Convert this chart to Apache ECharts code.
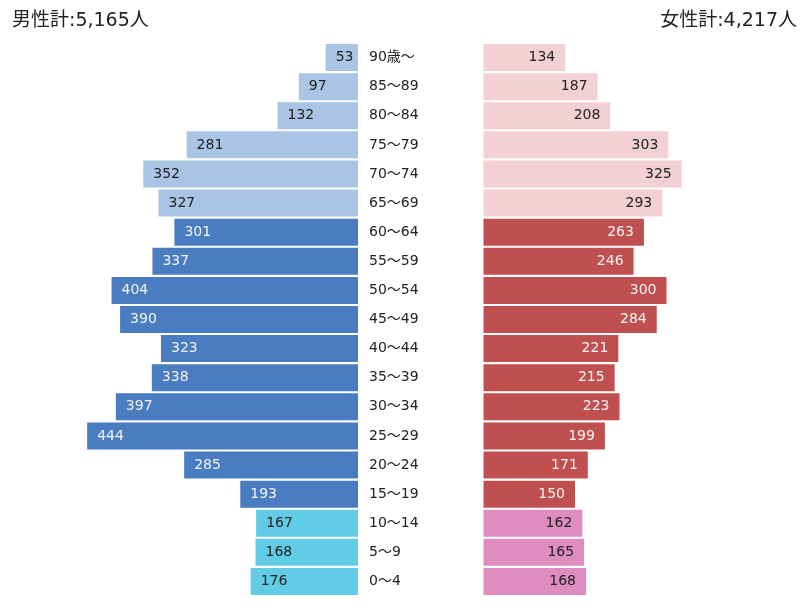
<!DOCTYPE html>
<html>
<head>
<meta charset="utf-8">
<script src="https://cdn.jsdelivr.net/npm/echarts@6/dist/echarts.min.js"></script>
<style>
  html, body { margin: 0; padding: 0; background: #fff; }
  #chart { width: 809px; height: 612px; }
</style>
</head>
<body>
<div id="chart"></div>
<script>
// age groups, top to bottom
const ageLabels = ["90歳～", "85～89", "80～84", "75～79", "70～74", "65～69", "60～64", "55～59", "50～54",
  "45～49", "40～44", "35～39", "30～34", "25～29", "20～24", "15～19", "10～14", "5～9", "0～4"];
const maleValues = [53, 97, 132, 281, 352, 327, 301, 337, 404, 390, 323, 338, 397, 444, 285, 193, 167, 168, 176];
const femaleValues = [134, 187, 208, 303, 325, 293, 263, 246, 300, 284, 221, 215, 223, 199, 171, 150, 162, 165, 168];
const maleTotal = "5,165";
const femaleTotal = "4,217";

const FONT = '"DejaVu Sans", "Noto Sans CJK JP", sans-serif';

// index 0-5 = 65+, 6-15 = 15-64, 16-18 = 0-14
function group(i) {
  if (i <= 5) return "old";
  if (i <= 15) return "work";
  return "young";
}
const maleColors = { old: "#a9c4e4", work: "#4a7cc1", young: "#62cbe5" };
const femaleColors = { old: "#f2d0d3", work: "#c0504f", young: "#df8cc1" };
const labelColors = { old: "#222", work: "#f4f4f4", young: "#222" };

const chart = echarts.init(document.getElementById("chart"));

const gridTop = 43, gridHeight = 553, gridWidth = 305;

const option = {
  animation: false,
  title: [
    { text: "男性計:" + maleTotal + "人", left: 7, top: 7,
      textStyle: { fontFamily: FONT, fontSize: 19, fontWeight: "normal", color: "#222" } },
    { text: "女性計:" + femaleTotal + "人", right: 7, top: 7,
      textStyle: { fontFamily: FONT, fontSize: 19, fontWeight: "normal", color: "#222" } }
  ],
  grid: [
    { left: 358 - gridWidth, top: gridTop, width: gridWidth, height: gridHeight },
    { left: 483.5, top: gridTop, width: gridWidth, height: gridHeight }
  ],
  xAxis: [
    { gridIndex: 0, type: "value", min: 0, max: 500, inverse: true, show: false },
    { gridIndex: 1, type: "value", min: 0, max: 500, show: false }
  ],
  yAxis: [
    {
      gridIndex: 0, type: "category", data: ageLabels, inverse: true, position: "right",
      axisLine: { show: false }, axisTick: { show: false },
      axisLabel: { margin: 11, align: "left", color: "#222", fontSize: 14, fontFamily: FONT }
    },
    {
      gridIndex: 1, type: "category", data: ageLabels, inverse: true, show: false
    }
  ],
  series: [
    {
      name: "男性", type: "bar", xAxisIndex: 0, yAxisIndex: 0, barWidth: 27,
      data: maleValues.map((v, i) => ({
        value: v,
        itemStyle: { color: maleColors[group(i)] },
        label: { color: labelColors[group(i)] }
      })),
      label: { show: true, position: "insideLeft", distance: 10, fontSize: 14, fontFamily: FONT }
    },
    {
      name: "女性", type: "bar", xAxisIndex: 1, yAxisIndex: 1, barWidth: 27,
      data: femaleValues.map((v, i) => ({
        value: v,
        itemStyle: { color: femaleColors[group(i)] },
        label: { color: labelColors[group(i)] }
      })),
      label: { show: true, position: "insideRight", distance: 10, fontSize: 14, fontFamily: FONT }
    }
  ]
};

chart.setOption(option);
</script>
</body>
</html>
